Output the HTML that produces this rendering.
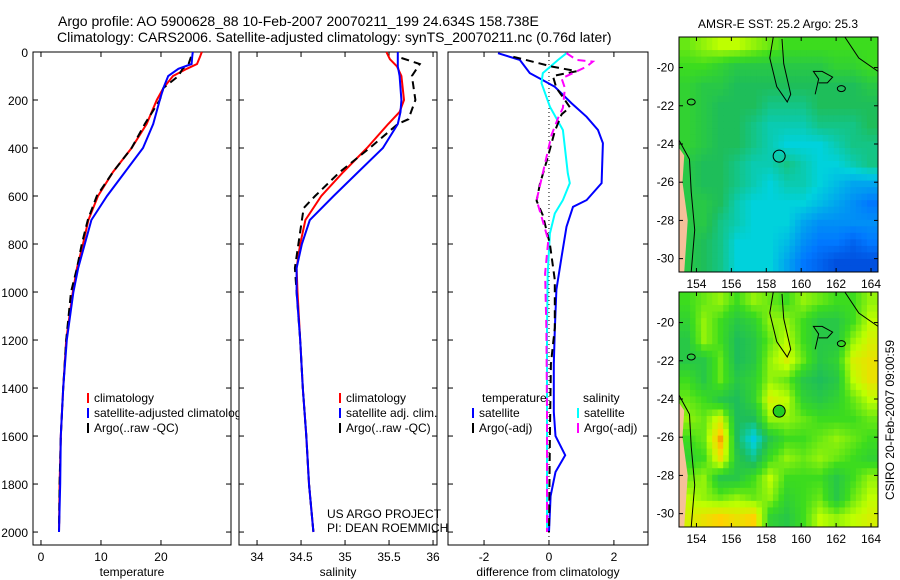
<!DOCTYPE html>
<html><head><meta charset="utf-8"><style>
body{margin:0;background:#fff;}
svg{display:block;font-family:"Liberation Sans",sans-serif;}
</style></head><body>
<svg id="s" width="900" height="580" viewBox="0 0 900 580">
<text x="58" y="26" font-size="14">Argo profile: AO 5900628_88 10-Feb-2007 20070211_199 24.634S 158.738E</text>
<text x="57" y="42" font-size="14">Climatology: CARS2006. Satellite-adjusted climatology: synTS_20070211.nc (0.76d later)</text>
<text x="778" y="28" font-size="12" text-anchor="middle">AMSR-E SST: 25.2 Argo: 25.3</text>
<text x="778" y="318" font-size="12" text-anchor="middle">Altimetric SLA: 0.13 Argo: 0.035</text>
<text transform="translate(894,420) rotate(-90)" font-size="12" text-anchor="middle">CSIRO 20-Feb-2007 09:00:59</text>
<g id="g"></g>
</svg>
<script>
// ---- profile data ----
const tDepth=[0,20,50,70,100,150,200,300,400,500,600,700,800,900,1000,1200,1400,1600,1800,2000];
const tClim=[26.8,26.5,26,24.3,22,20.4,19.3,17.6,15.1,12,9.5,7.9,7,6,5.3,4.2,3.7,3.3,3.1,3.0];
const tSat=[25.3,25.2,25.1,22.9,21.2,20.4,19.8,18.7,17,14,11,8.4,7.3,6.2,5.4,4.3,3.7,3.3,3.2,3.0];
const aDepth=[20,50,70,100,150,200,300,400,500,600,700,800,900,1000,1200,1400,1600,1800,2000];
const tArgo=[25,24.6,23.6,22.9,20.4,19.8,17.3,15.1,12,9.3,7.8,6.8,6,5,4.2,3.7,3.3,3.1,3.0];
const sDepth=[0,30,60,100,200,250,300,400,500,600,700,800,900,1000,1200,1400,1600,1800,2000];
const sClim=[35.47,35.51,35.59,35.64,35.67,35.62,35.49,35.25,34.98,34.73,34.55,34.49,34.45,34.46,34.49,34.52,34.56,34.59,34.64];
const sSat=[35.6,35.6,35.6,35.62,35.64,35.63,35.6,35.43,35.15,34.87,34.6,34.51,34.45,34.45,34.49,34.52,34.56,34.59,34.64];
const saDepth=[25,50,100,200,280,300,400,500,600,650,700,800,900,1000,1200,1400,1600,1800,2000];
const sArgo=[35.64,35.85,35.76,35.8,35.72,35.6,35.28,34.94,34.66,34.53,34.51,34.47,34.43,34.45,34.49,34.52,34.56,34.59,34.64];
const dTDepth=[5,33,88,117,145,213,270,325,380,546,617,645,728,853,990,1158,1300,1500,1600,1680,1750,1850,2000];
const dTSat=[-1.57,-0.9,-0.59,-0.19,0.18,0.69,1.16,1.51,1.66,1.62,1.16,0.74,0.54,0.39,0.23,0.18,0.15,0.15,0.2,0.5,0.2,0.05,0.0];
const dSDepth=[5,33,88,130,228,325,505,546,617,673,756,923,1158,1500,2000];
const dSSat=[0.54,0.28,-0.19,-0.23,0.03,0.43,0.58,0.64,0.43,0.18,0.03,-0.04,-0.06,-0.06,-0.06];
const dTADepth=[20,47,61,80,100,150,200,230,260,330,450,550,620,680,800,950,1150,1300,1600,2000];
const dTArgo=[-1.1,-0.3,0.1,0.85,0.12,0.23,0.49,0.64,0.39,0.18,-0.06,-0.28,-0.38,-0.19,0.03,0.18,0.18,0.06,0.03,0.0];
const dSADepth=[5,33,40,61,88,110,150,233,275,345,505,617,686,784,923,1158,1500,2000];
const dSArgo=[0.54,0.85,1.35,1.16,0.74,0.39,0.49,0.43,0.28,0.08,-0.19,-0.38,-0.23,-0.02,-0.12,-0.08,-0.06,-0.06];
const depthTicks=[0,200,400,600,800,1000,1200,1400,1600,1800,2000];
const tTicks=[0,10,20];
const sTicks=[34,34.5,35,35.5,36];
const dTicks=[-2,0,2];
// ---- map data (0 blue .. 1 yellow) ----
const sstGrid=[
[.75,.8,.85,.85,.8,.75,.7,.7,.7,.7,.7,.7],
[.7,.7,.65,.6,.6,.6,.6,.6,.6,.65,.65,.7],
[.65,.6,.6,.55,.55,.55,.55,.55,.55,.55,.55,.6],
[.65,.6,.55,.55,.55,.5,.5,.5,.55,.55,.55,.55],
[.65,.6,.55,.55,.5,.45,.45,.45,.5,.5,.5,.55],
[.65,.6,.55,.55,.5,.45,.4,.4,.4,.45,.5,.5],
[.6,.55,.55,.5,.45,.45,.5,.45,.4,.4,.45,.5],
[.6,.55,.55,.5,.45,.4,.45,.45,.4,.35,.3,.3],
[.6,.6,.55,.45,.4,.4,.4,.4,.35,.3,.25,.2],
[.6,.6,.5,.45,.4,.4,.4,.3,.25,.25,.25,.25],
[.6,.55,.5,.4,.4,.4,.35,.25,.2,.2,.15,.2],
[.6,.55,.5,.4,.4,.4,.3,.2,.15,.1,.1,.1]];
const slaGrid=[
[.7,.75,.8,.7,.8,.75,.7,.8,.75,.7,.7,.8],
[.65,.8,.7,.6,.65,.8,.8,.7,.6,.6,.7,.85],
[.6,.8,.7,.55,.6,.75,.85,.7,.6,.6,.8,.9],
[.6,.6,.75,.55,.6,.8,.9,.75,.6,.65,.9,.95],
[.7,.6,.75,.6,.65,.8,.75,.6,.55,.6,.85,.95],
[.75,.7,.6,.55,.65,.9,.85,.65,.6,.65,.75,.85],
[.8,.75,.9,.55,.55,.8,.8,.75,.7,.7,.7,.75],
[.7,.75,1.05,.55,.38,.6,.7,.7,.75,.8,.75,.7],
[.65,.7,.95,.6,.5,.7,.8,.75,.8,.75,.7,.65],
[.75,.8,.6,.6,.7,.85,.7,.7,.7,.6,.7,.8],
[.85,.8,.75,.8,.75,.8,.65,.7,.75,.6,.75,.85],
[.9,.95,1.0,.95,1.0,.65,.6,.7,.85,.8,.85,.9]];
const lonTicks=[154,156,158,160,162,164];
const latTicks=[-20,-22,-24,-26,-28,-30];
const argoLon=158.738, argoLat=-24.634;

const NS="http://www.w3.org/2000/svg";
const G=document.getElementById('g');
function mk(tag,attrs,parent){const e=document.createElementNS(NS,tag);for(const k in attrs)e.setAttribute(k,attrs[k]);(parent||G).appendChild(e);return e;}
const yTop=52,yBot=545,dMax=2054;
const yD=d=>yTop+(d/dMax)*(yBot-yTop);
function panel(x0,x1,v0,v1,ticks,label,name){
  const xs=v=>x0+(v-v0)/(v1-v0)*(x1-x0);
  const fr=mk('rect',{x:x0,y:yTop,width:x1-x0,height:yBot-yTop,fill:'#fff',stroke:'#000','stroke-width':1});
  
  
  ticks.forEach(t=>{const x=xs(t);
    mk('line',{x1:x,x2:x,y1:yBot,y2:yBot-5,stroke:'#000'});
    mk('line',{x1:x,x2:x,y1:yTop,y2:yTop+5,stroke:'#000'});
    const tx=mk('text',{x:x,y:561,'font-size':12,'text-anchor':'middle'});tx.textContent=t;
    
    });
  depthTicks.forEach(d=>{const y=yD(d);
    mk('line',{x1:x0,x2:x0+5,y1:y,y2:y,stroke:'#000'});
    mk('line',{x1:x1,x2:x1-5,y1:y,y2:y,stroke:'#000'});});
  const xl=mk('text',{x:(x0+x1)/2,y:576,'font-size':12,'text-anchor':'middle'});xl.textContent=label;
  
  
  return xs;
}
function line(xs,vals,depths,color,dash,name){
  const p=vals.map((v,i)=>xs(v).toFixed(1)+','+yD(depths[i]).toFixed(1)).join(' ');
  const e=mk('polyline',{points:p,fill:'none',stroke:color,'stroke-width':2});
  if(dash)e.setAttribute('stroke-dasharray','8,5');
  
  
}
function legend(items,x,y,name){
  items.forEach((it,i)=>{const yy=y+i*15;
    mk('line',{x1:x,x2:x,y1:yy-9,y2:yy+1,stroke:it[1],'stroke-width':2});
    const t=mk('text',{x:x+6,y:yy,'font-size':12});t.textContent=it[0];
    
    });
}
const x1s=panel(33,231,-1.33,31.67,tTicks,'temperature','temperature-panel');
depthTicks.forEach(d=>{const t=mk('text',{x:28,y:yD(d)+5,'font-size':12,'text-anchor':'end'});t.textContent=d;
  
  });
line(x1s,tClim,tDepth,'#f00',false,'temp-climatology-line');
line(x1s,tArgo,aDepth,'#000',true,'temp-argo-line');
line(x1s,tSat,tDepth,'#00f',false,'temp-satellite-line');
legend([['climatology','#f00'],['satellite-adjusted climatology','#00f'],['Argo(..raw -QC)','#000']],88,402,'temp-legend');
const x2s=panel(239,437,33.795,36.045,sTicks,'salinity','salinity-panel');
line(x2s,sClim,sDepth,'#f00',false,'sal-climatology-line');
line(x2s,sArgo,saDepth,'#000',true,'sal-argo-line');
line(x2s,sSat,sDepth,'#00f',false,'sal-satellite-line');
legend([['climatology','#f00'],['satellite adj. clim.','#00f'],['Argo(..raw -QC)','#000']],340,402,'sal-legend');
const x3s=panel(448,648,-3.11,3.05,dTicks,'difference from climatology','difference-panel');
mk('line',{x1:x3s(0),x2:x3s(0),y1:yTop,y2:yBot,stroke:'#000','stroke-dasharray':'1,3'});
line(x3s,dTSat,dTDepth,'#00f',false,'diff-temp-satellite-line');
line(x3s,dSSat,dSDepth,'#0ff',false,'diff-sal-satellite-line');
line(x3s,dTArgo,dTADepth,'#000',true,'diff-temp-argo-line');
line(x3s,dSArgo,dSADepth,'#f0f',true,'diff-sal-argo-line');
[['temperature',482],['salinity',583]].forEach(a=>{const t=mk('text',{x:a[1],y:402,'font-size':12});t.textContent=a[0];
  
  });
legend([['satellite','#00f'],['Argo(-adj)','#000']],473,417,'diff-temp-legend');
legend([['satellite','#0ff'],['Argo(-adj)','#f0f']],578,417,'diff-sal-legend');
[['US ARGO PROJECT',518],['PI: DEAN ROEMMICH',532]].forEach(a=>{const t=mk('text',{x:327,y:a[1],'font-size':12});t.textContent=a[0];
  
  });
// ---- maps ----
const stops=[[0,[0,40,190]],[0.2,[0,120,255]],[0.4,[0,210,220]],[0.55,[30,190,90]],[0.7,[60,220,30]],[0.85,[190,255,0]],[1.0,[255,210,0]],[1.1,[240,120,0]]];
function cmap(v){for(let i=1;i<stops.length;i++){if(v<=stops[i][0]){const a=stops[i-1],b=stops[i],f=(v-a[0])/(b[0]-a[0]);
  return 'rgb('+a[1].map((c,j)=>Math.round(c+(b[1][j]-c)*f)).join(',')+')';}}return 'rgb(240,120,0)';}
function sample(grid,u,v){
  const R=grid.length,C=grid[0].length;
  let y=Math.min(Math.max(v,0),R-1),x=Math.min(Math.max(u,0),C-1);
  const i0=Math.floor(y),j0=Math.floor(x),i1=Math.min(i0+1,R-1),j1=Math.min(j0+1,C-1),fy=y-i0,fx=x-j0;
  return grid[i0][j0]*(1-fx)*(1-fy)+grid[i0][j1]*fx*(1-fy)+grid[i1][j0]*(1-fx)*fy+grid[i1][j1]*fx*fy;
}
function map(y0,y1,grid,name,fillCircle){
  const X0=679,X1=878,lon0=153.0,lon1=164.4,lat0=-18.4,lat1=-30.7;
  const xs=l=>X0+(l-lon0)/(lon1-lon0)*(X1-X0);
  const ys=l=>y0+(l-lat0)/(lat1-lat0)*(y1-y0);
  const rows=grid.length,cols=grid[0].length,N=3;
  const cw=(X1-X0)/(cols*N),ch=(y1-y0)/(rows*N);
  const g=mk('g',{});
  for(let i=0;i<rows*N;i++)for(let j=0;j<cols*N;j++){
    const v=sample(grid,(j+0.5)/N-0.5,(i+0.5)/N-0.5);
    const c=mk('rect',{x:(X0+j*cw).toFixed(2),y:(y0+i*ch).toFixed(2),width:(cw+0.5).toFixed(2),height:(ch+0.5).toFixed(2),fill:cmap(v)},g);
    
    
  }
  mk('polygon',{points:`${X0},${ys(-24.2)} ${xs(153.3)},${ys(-24.6)} ${xs(153.2)},${ys(-26)} ${xs(153.5)},${ys(-28)} ${xs(153.3)},${ys(-30.7)} ${X0},${ys(-30.7)}`,fill:'#f5c09a'},g);
  mk('polyline',{points:`${X0},${ys(-23.8)} ${xs(153.6)},${ys(-24.8)} ${xs(153.7)},${ys(-26.5)} ${xs(153.9)},${ys(-28.5)} ${xs(153.7)},${ys(-30.7)}`,fill:'none',stroke:'#000'},g);
  mk('polyline',{points:`${xs(158.4)},${ys(-18.4)} ${xs(158.2)},${ys(-19.5)} ${xs(158.6)},${ys(-21)} ${xs(159.2)},${ys(-21.8)} ${xs(159.4)},${ys(-21.4)} ${xs(159)},${ys(-19.8)} ${xs(158.9)},${ys(-18.5)}`,fill:'none',stroke:'#000'},g);
  mk('polyline',{points:`${xs(160.8)},${ys(-21.4)} ${xs(161)},${ys(-20.6)} ${xs(160.7)},${ys(-20.2)} ${xs(161.2)},${ys(-20.2)} ${xs(161.8)},${ys(-20.5)} ${xs(161.5)},${ys(-20.8)} ${xs(161)},${ys(-20.8)}`,fill:'none',stroke:'#000'},g);
  mk('ellipse',{cx:xs(162.3),cy:ys(-21.1),rx:4,ry:3,fill:'none',stroke:'#000'},g);
  mk('ellipse',{cx:xs(153.7),cy:ys(-21.8),rx:4,ry:3,fill:'none',stroke:'#000'},g);
  mk('polyline',{points:`${xs(162.5)},${ys(-18.4)} ${xs(163.3)},${ys(-19.5)} ${xs(164.4)},${ys(-20.2)}`,fill:'none',stroke:'#000'},g);
  const c=mk('circle',{cx:xs(argoLon),cy:ys(argoLat),r:6,fill:fillCircle?'#2c2':'none',stroke:'#000'},g);
  
  
  mk('rect',{x:X0,y:y0,width:X1-X0,height:y1-y0,fill:'none',stroke:'#000'});
  lonTicks.forEach(l=>{const x=xs(l);mk('line',{x1:x,x2:x,y1:y1,y2:y1-4,stroke:'#000'});mk('line',{x1:x,x2:x,y1:y0,y2:y0+4,stroke:'#000'});
    const t=mk('text',{x:x,y:y1+16,'font-size':12,'text-anchor':'middle'});t.textContent=l;
    
    });
  latTicks.forEach(l=>{const y=ys(l);mk('line',{x1:X0,x2:X0+4,y1:y,y2:y,stroke:'#000'});mk('line',{x1:X1,x2:X1-4,y1:y,y2:y,stroke:'#000'});
    const t=mk('text',{x:X0-5,y:y+4,'font-size':12,'text-anchor':'end'});t.textContent=l;
    
    });
}
map(37,272,sstGrid,'sst-map',false);
map(292,527,slaGrid,'sla-map',true);
</script>
</body></html>
